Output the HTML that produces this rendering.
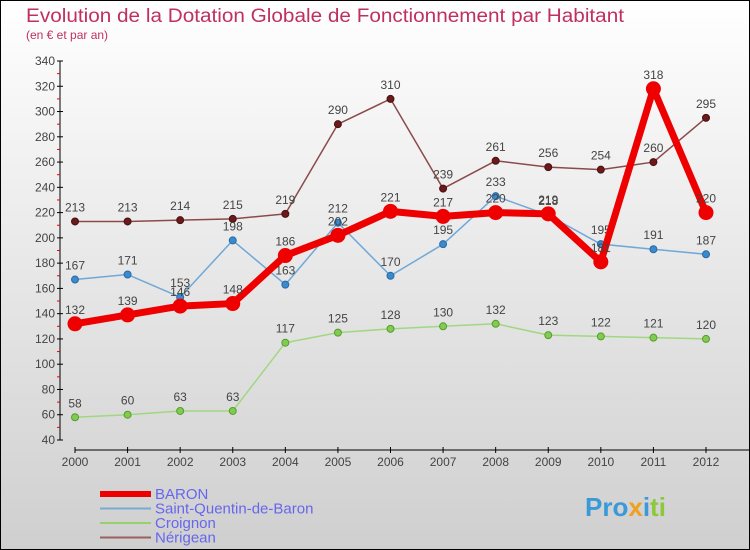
<!DOCTYPE html>
<html><head><meta charset="utf-8"><style>
body{margin:0}
#wrap{position:relative;width:750px;height:550px;font-family:"Liberation Sans",sans-serif;}
svg{display:block}
</style></head><body>
<div id="wrap">
<svg id="chart" width="750" height="550" xmlns="http://www.w3.org/2000/svg">
<defs><linearGradient id="bg" x1="0" y1="0" x2="0" y2="1"><stop offset="0" stop-color="#ffffff"/><stop offset="1" stop-color="#cfcfcf"/></linearGradient></defs>
<rect x="0.5" y="0.5" width="749" height="549" fill="url(#bg)" stroke="#000"/>
<text x="26" y="22" font-size="19" fill="#c0305e" textLength="598" lengthAdjust="spacingAndGlyphs">Evolution de la Dotation Globale de Fonctionnement par Habitant</text>
<text x="26" y="39" font-size="12" fill="#c0305e">(en € et par an)</text>
<g id="axes"></g><g id="series"></g><g id="legend"></g>
<text x="585" y="516" font-size="26" font-weight="bold" fill="#3a9ad9">Pro<tspan fill="#f0a020">x</tspan><tspan fill="#3a9ad9">i</tspan><tspan fill="#8cc83c">ti</tspan></text>
</svg></div>
<script>
const years=[2000,2001,2002,2003,2004,2005,2006,2007,2008,2009,2010,2011,2012];
const yTicks=[40,60,80,100,120,140,160,180,200,220,240,260,280,300,320,340];
const baron=[132,139,146,148,186,202,221,217,220,219,181,318,220];
const stQuentin=[167,171,153,198,163,212,170,195,233,218,195,191,187];
const croignon=[58,60,63,63,117,125,128,130,132,123,122,121,120];
const nerigean=[213,213,214,215,219,290,310,239,261,256,254,260,295];
const NS="http://www.w3.org/2000/svg";
function X(i){return 75+i*(706-75)/12;}
function Y(v){return 440-(v-40)*(379/300);}
function mk(t,a,p){const e=document.createElementNS(NS,t);for(const k in a)e.setAttribute(k,a[k]);p.appendChild(e);return e;}
const ax=document.getElementById('axes');
let l=mk('line',{x1:60,y1:Y(340),x2:60,y2:Y(40),stroke:'#000'},ax);


yTicks.forEach((v,i)=>{
 mk('line',{x1:57,y1:Y(v),x2:63,y2:Y(v),stroke:'#000'},ax);
 if(i<yTicks.length-1) mk('line',{x1:57,y1:Y(v+10),x2:60,y2:Y(v+10),stroke:'#e00'},ax);
 const t=mk('text',{x:55,y:Y(v)+4,'font-size':12,fill:'#444','text-anchor':'end'},ax);t.textContent=v;
 
 
});
l=mk('line',{x1:75,y1:450,x2:750,y2:450,stroke:'#000'},ax);


years.forEach((y,i)=>{
 mk('line',{x1:X(i),y1:447,x2:X(i),y2:453,stroke:'#000'},ax);
 const t=mk('text',{x:X(i),y:466,'font-size':12,fill:'#444','text-anchor':'middle'},ax);t.textContent=y;
 
 
});
const S=document.getElementById('series');
function series(data,name,color,w,r,dot,dotStroke){
 const g=mk('g',{},S);
 
 
 mk('polyline',{points:data.map((v,i)=>X(i)+','+Y(v)).join(' '),fill:'none',stroke:color,'stroke-width':w,'stroke-linejoin':'round'},g);
 data.forEach((v,i)=>{
  const c=mk('circle',{cx:X(i),cy:Y(v),r:r,fill:dot,stroke:dotStroke,'stroke-width':1},g);
  
  
  const t=mk('text',{x:X(i),y:Y(v)-10,'font-size':12,fill:'#444','text-anchor':'middle'},g);t.textContent=v;
  
  
 });
}
series(nerigean,'nerigean','#8b4a4a',1.5,3.5,'#6a1a1a','#4a1010');
series(croignon,'croignon','#a0d880',1.5,3.5,'#80cc50','#5a9a30');
series(stQuentin,'saint-quentin','#6fa8d8',1.5,3.5,'#3a8ad0','#2a6aa0');
series(baron,'baron','#ee0000',7,7,'#ee0000','#ee0000');
const L=document.getElementById('legend');
const leg=[['BARON','#ee0000',6],['Saint-Quentin-de-Baron','#7aaad0',2],['Croignon','#98d070',2],['Nérigean','#9a6060',2]];
leg.forEach((d,i)=>{
 const y=494+i*14.5;
 const g=mk('g',{},L);
 
 
 mk('line',{x1:100,y1:y,x2:151,y2:y,stroke:d[1],'stroke-width':d[2]},g);
 const t=mk('text',{x:155,y:y+5,'font-size':15,fill:'#6666ee'},g);t.textContent=d[0];
});
</script>
</body></html>
